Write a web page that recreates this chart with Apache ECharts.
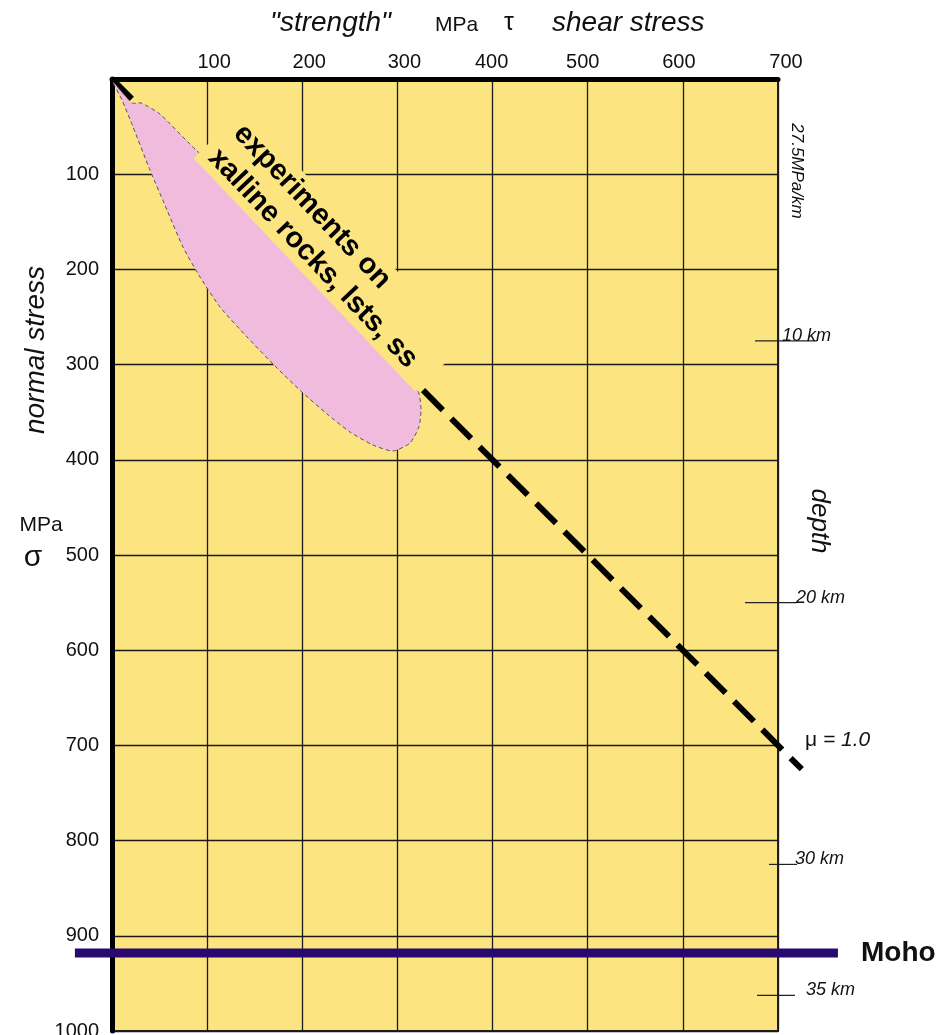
<!DOCTYPE html>
<html><head><meta charset="utf-8">
<script src="https://cdn.jsdelivr.net/npm/echarts@6.0.0/dist/echarts.min.js"></script>
<style>html,body{margin:0;padding:0;background:#fff}#c{width:944px;height:1035px}</style>
</head><body><div id="c"></div>
<script>
// ---------- data ----------
const shearTicks = [0, 100, 200, 300, 400, 500, 600, 700];          // MPa, tau
const normalTicks = [0, 100, 200, 300, 400, 500, 600, 700, 800, 900, 1000]; // MPa, sigma
const muLineX = [0, 725];     // mu = 1.0 friction line
const muLineY = [0, 725];
const mohoX = [-39, 763];
const mohoSigma = 918;
const depthKm = [10, 20, 30, 35];
const stressGradient = 27.5;  // MPa/km
// experimental field (outline, clockwise from origin tip)
const blobTau   = [1.1, 21.0, 30.5, 50.4, 88.3, 155.5, 229.1, 302.7, 322.6, 324.8, 322.6, 313.2, 295.3, 274.3, 250.1, 226.0, 200.7, 173.4, 141.9, 113.5, 92.5, 74.6, 57.8, 39.9, 22.1, 10.5];
const blobSigma = [3.2, 25.2, 25.2, 36.8, 74.6, 132.4, 209.0, 286.8, 330.0, 347.7, 365.5, 382.4, 390.8, 384.5, 370.8, 351.9, 329.8, 303.6, 271.0, 239.5, 208.0, 176.5, 137.6, 95.6, 50.4, 22.1];
const fieldLabel = 'experiments on\nxalline rocks, lsts, ss';

// ---------- layout / style ----------
const FONT = '"Liberation Sans", Arial, Helvetica, sans-serif';
const YELLOW = '#FCE581';
const PINK = '#F0BBDD';
const INK = '#111';
const topLabelShift = {100: 7, 200: 7, 300: 7, 400: -1, 500: -5, 600: -4, 700: 8};
const fieldLabelAnchor = [112.2, 57.6];
const depthTickLayout = [
  {l0: -23, l1: 39, tx: 4},
  {l0: -33, l1: 19, tx: 18},
  {l0: -9,  l1: 19, tx: 17},
  {l0: -21, l1: 17, tx: 28}
];

const rich = {};
Object.keys(topLabelShift).forEach(k => {
  const s = topLabelShift[k];
  rich['l' + k] = {fontSize: 20, color: INK, fontFamily: FONT,
    padding: s >= 0 ? [0, 0, 0, 2 * s] : [0, -2 * s, 0, 0]};
});

function txt(text, x, y, o) {
  o = o || {};
  return {
    type: 'text', x: x, y: y, rotation: o.rot || 0, z: 100,
    style: Object.assign({
      text: text, fill: INK, fontFamily: FONT,
      fontSize: o.size || 20, fontStyle: o.italic ? 'italic' : 'normal',
      fontWeight: o.bold ? 'bold' : 'normal',
      align: o.align || 'center', textAlign: o.align || 'center',
      verticalAlign: 'middle', textVerticalAlign: 'middle'
    }, o.extra || {})
  };
}

const chart = echarts.init(document.getElementById('c'), null, {renderer: 'canvas'});
const option = {
  backgroundColor: '#ffffff',
  animation: false,
  grid: {
    left: 112, top: 79, width: 666, height: 952,
    show: true, backgroundColor: YELLOW, borderColor: '#222', borderWidth: 2,
    containLabel: false, outerBoundsMode: 'none'
  },
  xAxis: {
    type: 'value', position: 'top',
    min: shearTicks[0], max: shearTicks[shearTicks.length - 1], interval: 100,
    axisLine: {show: true, onZero: false, lineStyle: {color: '#000', width: 5}},
    axisTick: {show: false},
    axisLabel: {
      margin: 7, fontSize: 20, color: INK, fontFamily: FONT,
      formatter: v => v === 0 ? '' : '{l' + v + '|' + v + '}', rich: rich
    },
    splitLine: {show: true, lineStyle: {color: '#1a1a1a', width: 1.3}}
  },
  yAxis: {
    type: 'value', inverse: true,
    min: normalTicks[0], max: normalTicks[normalTicks.length - 1], interval: 100,
    axisLine: {show: true, onZero: false, lineStyle: {color: '#000', width: 5}},
    axisTick: {show: false},
    axisLabel: {
      margin: 13, fontSize: 20, color: INK, fontFamily: FONT, padding: [0, 0, 13, 0],
      formatter: v => v === 0 ? '' : String(v)
    },
    splitLine: {show: true, lineStyle: {color: '#1a1a1a', width: 1.3}}
  },
  series: [
    {
      name: 'mu', type: 'custom', z: 2, clip: false, silent: true,
      data: [[muLineX[0], muLineY[0]]],
      renderItem: (params, api) => {
        const pts = muLineX.map((x, i) => api.coord([x, muLineY[i]]));
        return {type: 'polyline', shape: {points: pts},
          style: {stroke: '#000', fill: null, lineWidth: 6, lineDash: [28, 12], lineCap: 'butt'}};
      }
    },
    {
      name: 'field', type: 'custom', z: 3, clip: false, silent: true,
      data: [[0, 0]],
      renderItem: (params, api) => {
        const pts = blobTau.map((t, i) => api.coord([t, blobSigma[i]]));
        return {type: 'polygon', shape: {points: pts, smooth: 0.2},
          style: {fill: PINK, stroke: '#555', lineWidth: 1, lineDash: [4, 3]}};
      }
    },
    {
      name: 'fieldLabel', type: 'custom', z: 4, clip: false, silent: true,
      data: [fieldLabelAnchor],
      renderItem: (params, api) => {
        const p = api.coord([api.value(0), api.value(1)]);
        return {type: 'text', x: p[0], y: p[1], rotation: -46.5 * Math.PI / 180,
          style: {text: fieldLabel, fill: '#000', fontFamily: FONT, fontSize: 29,
            fontWeight: 'bold', lineHeight: 35, backgroundColor: YELLOW,
            padding: [0, 22, 0, 10], align: 'left', textAlign: 'left',
            verticalAlign: 'middle', textVerticalAlign: 'middle'}};
      }
    },
    {
      name: 'depth', type: 'custom', z: 5, clip: false, silent: true,
      data: depthKm.map(k => [shearTicks[shearTicks.length - 1], k * stressGradient]),
      renderItem: (params, api) => {
        const i = params.dataIndex;
        const p = api.coord([api.value(0), api.value(1)]);
        const s = depthTickLayout[i];
        return {type: 'group', children: [
          {type: 'line', shape: {x1: p[0] + s.l0, y1: p[1], x2: p[0] + s.l1, y2: p[1]},
            style: {stroke: '#222', lineWidth: 1.2}},
          {type: 'text', x: p[0] + s.tx, y: p[1] - 5,
            style: {text: depthKm[i] + ' km', fill: INK, fontFamily: FONT, fontSize: 18,
              fontStyle: 'italic', align: 'left', textAlign: 'left',
              verticalAlign: 'middle', textVerticalAlign: 'middle'}}
        ]};
      }
    },
    {
      name: 'moho', type: 'custom', z: 6, clip: false, silent: true,
      data: [[mohoX[0], mohoSigma]],
      renderItem: (params, api) => {
        const a = api.coord([mohoX[0], mohoSigma]);
        const b = api.coord([mohoX[1], mohoSigma]);
        return {type: 'line', shape: {x1: a[0], y1: a[1], x2: b[0], y2: b[1]},
          style: {stroke: '#28096F', lineWidth: 9, lineCap: 'butt'}};
      }
    }
  ],
  graphic: [
    txt('"strength"', 270, 23, {size: 28, italic: true, align: 'left'}),
    txt('MPa', 435, 25, {size: 21, align: 'left'}),
    txt('τ', 504, 23, {size: 25, align: 'left'}),
    txt('shear stress', 552, 23, {size: 28, italic: true, align: 'left'}),
    txt('normal stress', 36, 350, {size: 28, italic: true, rot: Math.PI / 2}),
    txt('MPa', 41, 525, {size: 21}),
    txt('σ', 33, 558, {size: 30}),
    txt('27.5MPa/km', 797, 171, {size: 17, italic: true, rot: -Math.PI / 2}),
    txt('depth', 819, 521, {size: 26, italic: true, rot: -Math.PI / 2}),
    txt('Moho', 861, 953, {size: 28, bold: true, align: 'left'}),
    txt('{m|μ}{t| = 1.0}', 805, 740, {size: 21, align: 'left', extra: {rich: {
      m: {fontSize: 21, fontFamily: FONT, fill: INK, fontStyle: 'normal'},
      t: {fontSize: 21, fontFamily: FONT, fill: INK, fontStyle: 'italic'}}}})
  ]
};
chart.setOption(option);
</script>
</body></html>
